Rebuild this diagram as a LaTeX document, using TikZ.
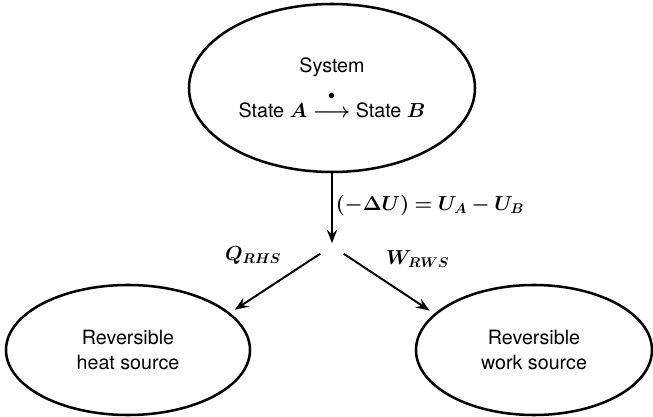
\documentclass[tikz,border=0pt]{standalone}
\usepackage{amsmath,amssymb}
\usepackage{bm}
\usepackage{fontspec}
\setmainfont{TeX Gyre Heros}
\usepackage{tikz}
\usetikzlibrary{arrows.meta,positioning,shapes.geometric}

\begin{document}
\begin{tikzpicture}[
  oval/.style={ellipse, draw, line width=1.8pt, align=center, inner sep=0pt, font=\fontsize{14}{18}\selectfont},
  arrow/.style={-{Stealth[length=3.4mm, width=2.6mm, inset=1.2mm]}, line width=1.4pt},
  lbl/.style={font=\fontsize{14}{16}\selectfont, inner sep=2pt}
]
\useasboundingbox (0,0) rectangle (16.325,-10.425);

% System
\node[oval, minimum width=7.15cm, minimum height=4.2cm] (sys) at (8.3,-2.2)
  {System\\[9pt] State $\bm{A} \stackrel{\raisebox{5pt}{$\scriptstyle\bullet$}}{\bm{\longrightarrow}}$ State $\bm{B}$};

% Split point
\coordinate (split) at (8.3,-6.15);

% Sources
\node[oval, minimum width=6.1cm, minimum height=3.25cm] (heat) at (3.2,-8.75) {Reversible\\heat source};
\node[oval, minimum width=5.9cm, minimum height=3.25cm] (work) at (13.35,-8.75) {Reversible\\work source};

% Arrows
\draw[arrow, shorten >=2pt] (sys) -- (split)
  node[lbl, pos=0.5, right, yshift=3pt] (du) {$\bm{(-\Delta U) = U_A - U_B}$};
\draw[arrow, shorten <=10pt, shorten >=4pt] (split) -- (heat.20)
  node[lbl, pos=0.42, anchor=south east, xshift=-3pt, yshift=4pt] (q) {$\bm{Q_{RHS}}$};
\draw[arrow, shorten <=10pt, shorten >=4pt] (split) -- (work.160)
  node[lbl, pos=0.45, anchor=south west, xshift=3pt, yshift=4pt] (w) {$\bm{W_{RWS}}$};

\end{tikzpicture}
\end{document}
